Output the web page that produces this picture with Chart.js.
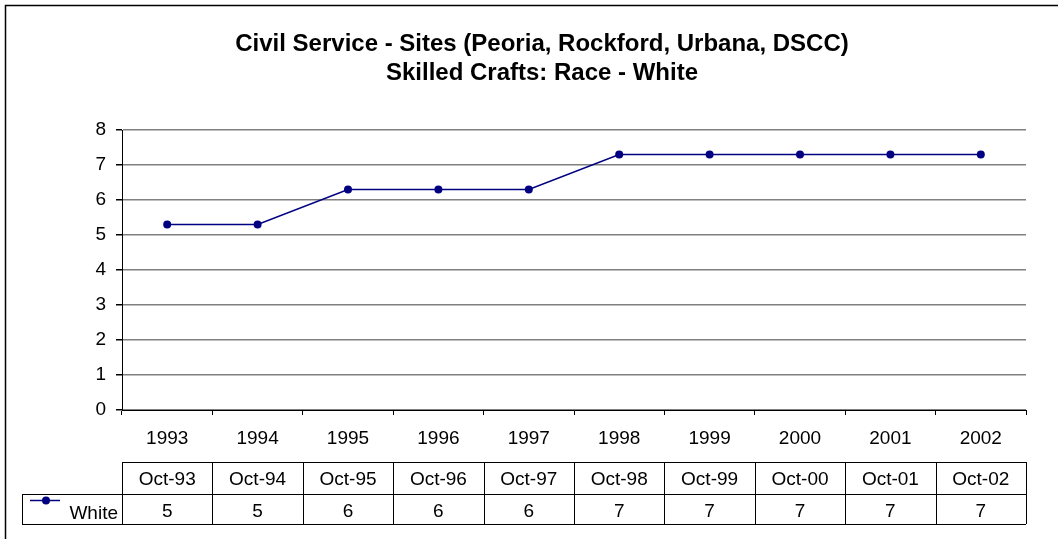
<!DOCTYPE html>
<html>
<head>
<meta charset="utf-8">
<script src="https://cdn.jsdelivr.net/npm/chart.js@4.4.0/dist/chart.umd.min.js"></script>
<style>
html,body{margin:0;padding:0;background:#fff;}
#wrap{width:1058px;height:539px;position:relative;}
</style>
</head>
<body>
<div id="wrap"><canvas id="c" width="1058" height="539"></canvas></div>
<script>
const titleLines = ["Civil Service - Sites (Peoria, Rockford, Urbana, DSCC)", "Skilled Crafts: Race - White"];
const categories = ["1993","1994","1995","1996","1997","1998","1999","2000","2001","2002"];
const tableHeaders = ["Oct-93","Oct-94","Oct-95","Oct-96","Oct-97","Oct-98","Oct-99","Oct-00","Oct-01","Oct-02"];
const seriesName = "White";
const whiteValues = [5.3,5.3,6.3,6.3,6.3,7.3,7.3,7.3,7.3,7.3];
const yTicks = [0,1,2,3,4,5,6,7,8];

const FONT = "Liberation Sans, Arial, sans-serif";
const LINE_COLOR = "#000080";

const decor = {
  id: 'decor',
  afterDraw(chart) {
    const ctx = chart.ctx;
    const xs = chart.scales.x;
    const area = chart.chartArea;
    ctx.save();
    // outer border
    ctx.strokeStyle = '#000';
    ctx.lineWidth = 1.5;
    ctx.beginPath();
    ctx.moveTo(5.5, 539); ctx.lineTo(5.5, 5.5); ctx.lineTo(1058, 5.5);
    ctx.stroke();
    // title
    ctx.fillStyle = '#000';
    ctx.font = "bold 24px " + FONT;
    ctx.textAlign = 'center';
    ctx.textBaseline = 'alphabetic';
    ctx.fillText(titleLines[0], 542, 51);
    ctx.fillText(titleLines[1], 542, 80);
    // data table
    const n = categories.length;
    const step = (area.right - area.left) / n;
    const r1t = 462, r1b = 494, r2b = 524, labL = 22;
    ctx.lineWidth = 1;
    ctx.strokeStyle = '#000';
    ctx.beginPath();
    ctx.moveTo(area.left, r1t + 0.5); ctx.lineTo(area.right, r1t + 0.5);
    ctx.moveTo(labL, r1b + 0.5); ctx.lineTo(area.right, r1b + 0.5);
    ctx.moveTo(labL, r2b + 0.5); ctx.lineTo(area.right, r2b + 0.5);
    ctx.moveTo(labL + 0.5, r1b); ctx.lineTo(labL + 0.5, r2b);
    for (let i = 0; i <= n; i++) {
      const x = Math.round(area.left + i * step) + 0.5;
      ctx.moveTo(x, r1t); ctx.lineTo(x, r2b);
    }
    ctx.stroke();
    ctx.font = "19px " + FONT;
    ctx.textAlign = 'center';
    ctx.textBaseline = 'alphabetic';
    for (let i = 0; i < n; i++) {
      const cx = xs.getPixelForValue(i);
      ctx.fillText(tableHeaders[i], cx, 485);
      ctx.fillText(String(Math.round(whiteValues[i])), cx, 517);
    }
    // legend key
    ctx.strokeStyle = LINE_COLOR;
    ctx.lineWidth = 1.5;
    ctx.beginPath();
    ctx.moveTo(30, 500.5); ctx.lineTo(60, 500.5);
    ctx.stroke();
    ctx.fillStyle = LINE_COLOR;
    ctx.beginPath(); ctx.arc(46, 500.5, 4, 0, Math.PI * 2); ctx.fill();
    ctx.fillStyle = '#000';
    ctx.textAlign = 'right';
    ctx.fillText(seriesName, 118, 519);
    ctx.restore();
  }
};

new Chart(document.getElementById('c'), {
  type: 'line',
  data: {
    labels: categories,
    datasets: [{
      label: seriesName,
      data: whiteValues,
      borderColor: LINE_COLOR,
      backgroundColor: LINE_COLOR,
      borderWidth: 1.5,
      pointRadius: 4,
      pointHoverRadius: 4,
      pointBackgroundColor: LINE_COLOR,
      pointBorderWidth: 0,
      tension: 0
    }]
  },
  options: {
    responsive: false,
    animation: false,
    events: [],
    layout: { padding: { left: 0, right: 32, top: 130, bottom: 0 } },
    plugins: { legend: { display: false }, title: { display: false }, tooltip: { enabled: false } },
    scales: {
      x: {
        offset: true,
        grid: { display: true, offset: true, drawOnChartArea: false, drawTicks: true, tickLength: 5, color: '#000' },
        border: { display: true, color: '#000', width: 1 },
        ticks: { color: '#000', font: { family: FONT, size: 19 }, padding: 12, maxRotation: 0, autoSkip: false },
        afterFit(s) { s.height = 129; }
      },
      y: {
        min: 0, max: 8,
        afterBuildTicks(s) { s.ticks = yTicks.map(v => ({ value: v })); },
        grid: { color: '#808080', lineWidth: 1.5, tickLength: 6, tickColor: '#000' },
        border: { display: true, color: '#000', width: 1 },
        ticks: { color: '#000', font: { family: FONT, size: 19 }, padding: 10 },
        afterFit(s) { s.width = 122; }
      }
    }
  },
  plugins: [decor]
});
</script>
</body>
</html>
